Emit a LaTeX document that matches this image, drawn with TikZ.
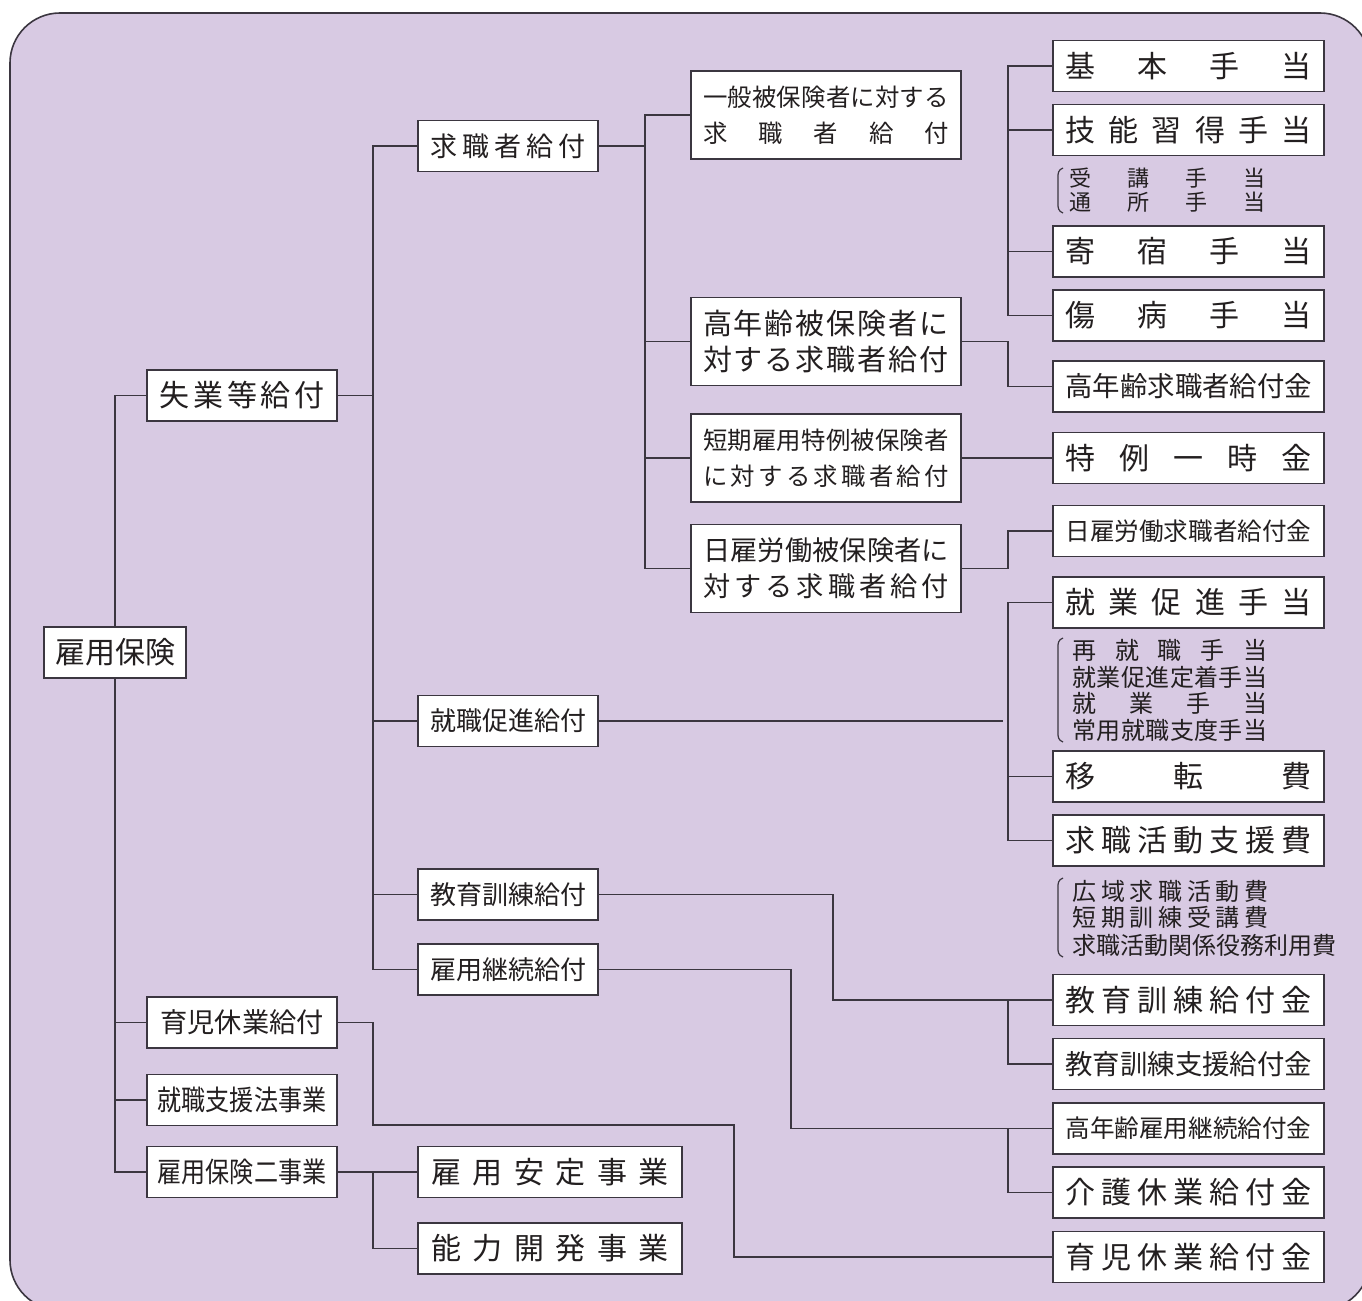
\documentclass[tikz,border=0pt]{standalone}
\usepackage{fontspec}
\setmainfont{Noto Sans CJK JP}
\usepackage{graphicx}
\definecolor{bg}{HTML}{D8CAE3}
\definecolor{ln}{HTML}{3B3640}
\definecolor{tx}{HTML}{231F20}
\def\jsA#1{\ifx\relax#1\else #1\expandafter\jsB\fi}
\def\jsB#1{\ifx\relax#1\else\hfill#1\expandafter\jsB\fi}
\newcommand\jspread[2]{\makebox[#1][s]{\jsA#2\relax}}
\newcommand\fs[1]{\fontsize{#1}{18}\selectfont}
\tikzset{
  box/.style={draw=ln, fill=white, line width=0.9pt, inner sep=0pt,
    minimum height=25.5pt, text=tx, align=center, font=\fs{15}},
  lbox/.style={box, minimum width=95pt},
  mbox/.style={box, minimum width=90pt, font=\fs{13.5}},
  wbox/.style={box, minimum width=132pt},
  cbox/.style={box, minimum width=135pt, minimum height=44pt},
  rbox/.style={box, minimum width=135.5pt},
  note/.style={inner sep=0pt, anchor=west, text=tx},
  conn/.style={draw=ln, line width=0.9pt},
  brk/.style={draw=ln, line width=0.6pt}
}
\begin{document}
\begin{tikzpicture}[x=0.5pt,y=-0.5pt]
\useasboundingbox (0,0) rectangle (1362,1301);
\begin{scope}
\clip (0,0) rectangle (1362,1301);
\draw[draw=ln, fill=bg, line width=0.8pt, rounded corners=25pt] (10,13) rectangle (1370,1310);
\end{scope}

% left column
\node[box, minimum width=71pt] (ko) at (115,652.5) {\jspread{60pt}{雇用保険}};
\node[lbox] (sg) at (242,395.5) {\jspread{82.5pt}{失業等給付}};
\node[lbox, font=\fs{13.6}] (ik) at (242,1022.5) {\jspread{81.5pt}{育児休業給付}};
\node[lbox, font=\fs{14}] (sj) at (242,1100) {\scalebox{0.86}[1]{就職支援法事業}};
\node[lbox, font=\fs{14}] (ni) at (242,1172) {\scalebox{0.86}[1]{雇用保険二事業}};

% second column
\node[mbox] (ks) at (508,146) {\jspread{78pt}{求職者給付}};
\node[mbox, font=\fs{13}] (ss) at (508,721) {\jspread{78pt}{就職促進給付}};
\node[mbox, font=\fs{13}] (kk) at (508,894.5) {\jspread{78pt}{教育訓練給付}};
\node[mbox, font=\fs{13}] (kz) at (508,969.5) {\jspread{78pt}{雇用継続給付}};
\node[wbox] (an) at (550,1172) {\jspread{118.5pt}{雇用安定事業}};
\node[wbox] (no) at (550,1248.5) {\jspread{118.5pt}{能力開発事業}};

% third column
\node[cbox, font=\fs{12.2}] (ip) at (826,115) {\jspread{123pt}{一般被保険者に対する}\\\jspread{123pt}{求職者給付}};
\node[cbox, font=\fs{14.5}] (kn) at (826,341.5) {\jspread{123pt}{高年齢被保険者に}\\\jspread{123pt}{対する求職者給付}};
\node[cbox, font=\fs{12.2}] (tk) at (826,458) {\jspread{123pt}{短期雇用特例被保険者}\\\jspread{123pt}{に対する求職者給付}};
\node[cbox, font=\fs{13.6}] (hy) at (826,568.5) {\jspread{123pt}{日雇労働被保険者に}\\\jspread{123pt}{対する求職者給付}};

% right column
\node[rbox] (kihon) at (1188.5,66) {\jspread{123pt}{基本手当}};
\node[rbox] (gino) at (1188.5,130) {\jspread{123pt}{技能習得手当}};
\node[rbox] (kishuku) at (1188.5,251.5) {\jspread{123pt}{寄宿手当}};
\node[rbox] (shobyo) at (1188.5,315.5) {\jspread{123pt}{傷病手当}};
\node[rbox, font=\fs{13.7}] (kokyu) at (1188.5,386.5) {\jspread{123pt}{高年齢求職者給付金}};
\node[rbox] (tokurei) at (1188.5,458) {\jspread{123pt}{特例一時金}};
\node[rbox, font=\fs{12.3}] (hiyatoi) at (1188.5,531) {\jspread{123pt}{日雇労働求職者給付金}};
\node[rbox] (shugyo) at (1188.5,602.5) {\jspread{123pt}{就業促進手当}};
\node[rbox] (iten) at (1188.5,776.5) {\jspread{123pt}{移転費}};
\node[rbox] (kyushoku) at (1188.5,840.5) {\jspread{123pt}{求職活動支援費}};
\node[rbox] (kyoiku) at (1188.5,1000) {\jspread{123pt}{教育訓練給付金}};
\node[rbox, font=\fs{13.7}] (shien) at (1188.5,1064) {\jspread{123pt}{教育訓練支援給付金}};
\node[rbox, font=\fs{12.3}] (koyo) at (1188.5,1128.5) {\jspread{123pt}{高年齢雇用継続給付金}};
\node[rbox] (kaigo) at (1188.5,1192.5) {\jspread{123pt}{介護休業給付金}};
\node[rbox] (ikuji) at (1188.5,1257) {\jspread{123pt}{育児休業給付金}};

% bracketed notes
\node[note, font=\fs{11}] (n1a) at (1069,178) {\jspread{98pt}{受講手当}};
\node[note, font=\fs{11}] (n1b) at (1069,202) {\jspread{98pt}{通所手当}};
\draw[brk] (1063,168) .. controls (1058,170) and (1058,173) .. (1058,178) -- (1058,203) .. controls (1058,208) and (1058,211) .. (1063,213);

\node[note, font=\fs{12}] (n2a) at (1072,650) {\jspread{97.5pt}{再就職手当}};
\node[note, font=\fs{12}] (n2b) at (1072,677) {\jspread{97.5pt}{就業促進定着手当}};
\node[note, font=\fs{12}] (n2c) at (1072,703) {\jspread{97.5pt}{就業手当}};
\node[note, font=\fs{12}] (n2d) at (1072,730) {\jspread{97.5pt}{常用就職支度手当}};
\draw[brk] (1063,638) .. controls (1058,640) and (1058,643) .. (1058,648) -- (1058,732) .. controls (1058,737) and (1058,740) .. (1063,742);

\node[note, font=\fs{12}] (n3a) at (1072,891) {\jspread{98pt}{広域求職活動費}};
\node[note, font=\fs{12}] (n3b) at (1072,917) {\jspread{98pt}{短期訓練受講費}};
\node[note, font=\fs{12}] (n3c) at (1072,945) {求職活動関係役務利用費};
\draw[brk] (1063,878) .. controls (1058,880) and (1058,883) .. (1058,888) -- (1058,947) .. controls (1058,952) and (1058,955) .. (1063,957);

% trunk coordinates
\coordinate (c1) at (373,0);
\coordinate (c2) at (645,0);
\coordinate (c3) at (1008,0);
\coordinate (c3b) at (1003,0);
\coordinate (c4) at (833,0);
\coordinate (c5) at (791,0);
\coordinate (c6) at (734,0);
\coordinate (d1) at (0,1125);

% connectors
\draw[conn] (ko.north) |- (sg.west);
\draw[conn] (ko.south) |- (ni.west);
\draw[conn] (ko.south |- ik.west) -- (ik.west);
\draw[conn] (ko.south |- sj.west) -- (sj.west);

\draw[conn] (sg.east) -- (sg.east -| c1);
\draw[conn] (ks.west) -- (ks.west -| c1) -- (kz.west -| c1) -- (kz.west);
\draw[conn] (ss.west -| c1) -- (ss.west);
\draw[conn] (kk.west -| c1) -- (kk.west);

\draw[conn] (ks.east) -- (ks.east -| c2);
\draw[conn] (ip.west) -- (ip.west -| c2) -- (hy.west -| c2) -- (hy.west);
\draw[conn] (kn.west -| c2) -- (kn.west);
\draw[conn] (tk.west -| c2) -- (tk.west);

\draw[conn] (kihon.west) -- (kihon.west -| c3) -- (shobyo.west -| c3) -- (shobyo.west);
\draw[conn] (gino.west -| c3) -- (gino.west);
\draw[conn] (kishuku.west -| c3) -- (kishuku.west);
\draw[conn] (kn.east) -- (kn.east -| c3) |- (kokyu.west);
\draw[conn] (tk.east) -- (tokurei.west);
\draw[conn] (hy.east) -- (hy.east -| c3) |- (hiyatoi.west);
\draw[conn] (shugyo.west) -- (shugyo.west -| c3) -- (kyushoku.west -| c3) -- (kyushoku.west);
\draw[conn] (iten.west -| c3) -- (iten.west);
\draw[conn] (ss.east) -- (ss.east -| c3b);

\draw[conn] (kk.east) -- (kk.east -| c4) |- (kyoiku.west);
\draw[conn] (kyoiku.west -| c3) |- (shien.west);
\draw[conn] (kz.east) -- (kz.east -| c5) |- (koyo.west);
\draw[conn] (koyo.west -| c3) |- (kaigo.west);
\draw[conn] (ik.east) -- (ik.east -| c1) -- (c1 |- d1) -- (c6 |- d1) |- (ikuji.west);
\draw[conn] (ni.east) -- (an.west);
\draw[conn] (ni.east -| c1) |- (no.west);
\end{tikzpicture}
\end{document}
